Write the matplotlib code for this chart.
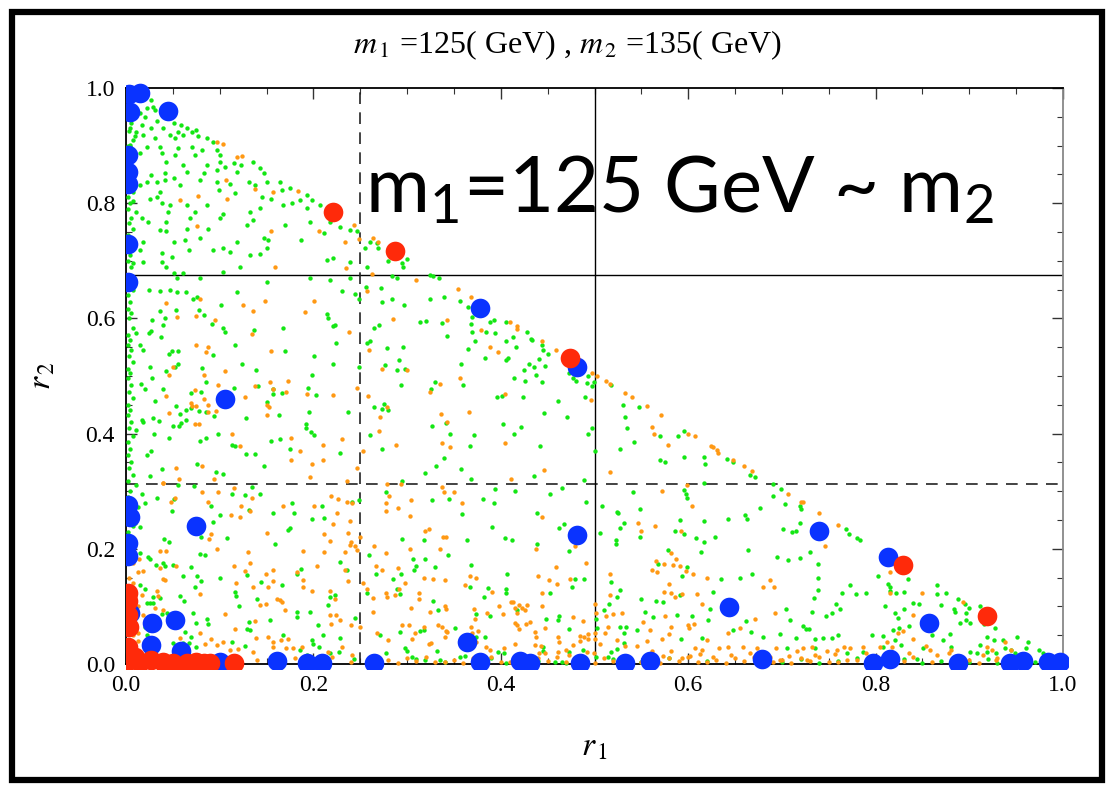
import matplotlib
matplotlib.use("Agg")
import matplotlib.pyplot as plt
from matplotlib.patches import Rectangle
from matplotlib.ticker import MultipleLocator, FormatStrFormatter

plt.rcParams['mathtext.fontset'] = 'custom'
plt.rcParams['mathtext.rm'] = 'Lato'
plt.rcParams['mathtext.it'] = 'Lato:italic'

# scan points (r1, r2), small dots
green_pts = [
    (0.027, 0.979), (0.029, 0.967), (0.022, 0.965), (0.015, 0.956), (0.031, 0.962), (0.020, 0.950),
    (0.033, 0.942), (0.017, 0.936), (0.004, 0.930), (0.011, 0.924), (0.027, 0.930), (0.040, 0.930),
    (0.051, 0.939), (0.059, 0.936), (0.065, 0.930), (0.056, 0.924), (0.070, 0.924), (0.075, 0.927),
    (0.010, 0.916), (0.018, 0.918), (0.031, 0.913), (0.047, 0.918), (0.052, 0.913), (0.061, 0.918),
    (0.077, 0.916), (0.086, 0.914), (0.093, 0.907), (0.004, 0.901), (0.022, 0.898), (0.036, 0.898),
    (0.056, 0.895), (0.070, 0.898), (0.081, 0.892), (0.097, 0.892), (0.015, 0.887), (0.038, 0.887),
    (0.052, 0.884), (0.074, 0.884), (0.100, 0.884), (0.043, 0.872), (0.061, 0.866), (0.086, 0.866),
    (0.100, 0.872), (0.115, 0.869), (0.123, 0.866), (0.136, 0.872), (0.143, 0.861), (0.147, 0.852),
    (0.027, 0.849), (0.042, 0.852), (0.065, 0.855), (0.083, 0.852), (0.097, 0.858), (0.106, 0.863),
    (0.118, 0.855), (0.022, 0.837), (0.033, 0.837), (0.042, 0.840), (0.051, 0.843), (0.079, 0.840),
    (0.097, 0.837), (0.111, 0.834), (0.131, 0.837), (0.138, 0.832), (0.150, 0.837), (0.164, 0.837),
    (0.175, 0.826), (0.015, 0.832), (0.036, 0.820), (0.033, 0.811), (0.026, 0.808), (0.058, 0.832),
    (0.099, 0.823), (0.116, 0.817), (0.145, 0.811), (0.155, 0.808), (0.166, 0.823), (0.186, 0.806),
    (0.193, 0.814), (0.198, 0.806), (0.008, 0.803), (0.038, 0.800), (0.047, 0.797), (0.065, 0.797),
    (0.086, 0.797), (0.011, 0.785), (0.045, 0.785), (0.074, 0.785), (0.104, 0.782), (0.132, 0.785),
    (0.143, 0.791), (0.168, 0.797), (0.177, 0.800), (0.193, 0.791), (0.207, 0.797), (0.017, 0.774),
    (0.024, 0.768), (0.043, 0.768), (0.068, 0.774), (0.100, 0.774), (0.136, 0.771), (0.196, 0.768),
    (0.218, 0.768), (0.228, 0.759), (0.239, 0.753), (0.246, 0.751), (0.036, 0.753), (0.043, 0.751),
    (0.065, 0.756), (0.088, 0.756), (0.129, 0.762), (0.170, 0.762), (0.211, 0.748), (0.018, 0.733),
    (0.051, 0.733), (0.063, 0.736), (0.079, 0.739), (0.118, 0.733), (0.147, 0.739), (0.152, 0.736),
    (0.187, 0.736), (0.150, 0.722), (0.104, 0.722), (0.093, 0.719), (0.067, 0.719), (0.038, 0.713),
    (0.015, 0.719), (0.111, 0.716), (0.132, 0.710), (0.143, 0.711), (0.008, 0.696), (0.018, 0.698),
    (0.038, 0.698), (0.049, 0.707), (0.043, 0.690), (0.122, 0.690), (0.214, 0.701), (0.221, 0.704),
    (0.239, 0.698), (0.257, 0.690), (0.255, 0.722), (0.051, 0.678), (0.061, 0.678), (0.104, 0.681),
    (0.196, 0.670), (0.218, 0.667), (0.239, 0.670), (0.150, 0.664), (0.079, 0.670), (0.054, 0.670),
    (0.260, 0.733), (0.268, 0.731), (0.269, 0.722),
    (0.025, 0.649), (0.036, 0.648), (0.047, 0.649), (0.054, 0.645), (0.064, 0.645), (0.071, 0.634),
    (0.076, 0.638), (0.101, 0.623), (0.118, 0.645), (0.036, 0.612), (0.042, 0.600), (0.028, 0.598),
    (0.040, 0.589), (0.053, 0.615), (0.078, 0.615), (0.083, 0.606), (0.092, 0.591), (0.104, 0.583),
    (0.106, 0.577), (0.137, 0.580), (0.168, 0.584), (0.025, 0.574), (0.027, 0.578), (0.037, 0.567),
    (0.011, 0.574), (0.015, 0.554), (0.018, 0.546), (0.046, 0.539), (0.049, 0.544), (0.056, 0.543),
    (0.093, 0.536), (0.116, 0.553), (0.124, 0.521), (0.139, 0.510), (0.170, 0.543), (0.201, 0.534),
    (0.221, 0.520), (0.216, 0.600), (0.215, 0.608), (0.221, 0.586), (0.223, 0.589), (0.224, 0.558),
    (0.231, 0.648), (0.244, 0.642), (0.249, 0.634), (0.257, 0.558), (0.249, 0.516), (0.026, 0.516),
    (0.028, 0.497), (0.043, 0.508), (0.052, 0.516), (0.056, 0.521), (0.081, 0.514), (0.085, 0.490),
    (0.016, 0.486), (0.020, 0.477), (0.039, 0.477), (0.069, 0.470), (0.080, 0.473), (0.031, 0.457),
    (0.053, 0.448), (0.058, 0.434), (0.069, 0.445), (0.064, 0.441), (0.078, 0.440), (0.085, 0.438),
    (0.094, 0.431), (0.115, 0.479), (0.141, 0.483), (0.157, 0.477), (0.167, 0.471), (0.157, 0.468),
    (0.150, 0.454), (0.163, 0.432), (0.128, 0.427), (0.195, 0.437), (0.199, 0.501), (0.194, 0.479),
    (0.203, 0.467), (0.029, 0.427), (0.035, 0.422), (0.046, 0.393), (0.059, 0.419), (0.057, 0.413),
    (0.050, 0.413), (0.030, 0.400), (0.064, 0.424), (0.017, 0.424), (0.018, 0.421), (0.011, 0.407),
    (0.098, 0.400), (0.079, 0.388), (0.085, 0.392), (0.113, 0.380), (0.116, 0.379), (0.128, 0.364),
    (0.138, 0.364), (0.155, 0.388), (0.164, 0.390), (0.175, 0.374), (0.192, 0.416), (0.192, 0.410),
    (0.197, 0.403), (0.201, 0.398), (0.228, 0.366), (0.237, 0.438), (0.022, 0.362), (0.027, 0.370),
    (0.038, 0.339), (0.026, 0.327), (0.076, 0.347), (0.096, 0.334), (0.104, 0.330), (0.147, 0.343),
    (0.256, 0.655),
    (0.011, 0.311), (0.056, 0.311), (0.073, 0.309), (0.134, 0.307), (0.017, 0.295), (0.033, 0.289),
    (0.051, 0.287), (0.049, 0.266), (0.020, 0.279), (0.013, 0.273), (0.091, 0.275), (0.100, 0.258),
    (0.113, 0.296), (0.127, 0.293), (0.131, 0.267), (0.143, 0.296), (0.093, 0.246), (0.080, 0.221),
    (0.108, 0.219), (0.041, 0.217), (0.046, 0.211), (0.015, 0.238), (0.010, 0.244), (0.173, 0.233),
    (0.175, 0.236), (0.159, 0.209), (0.157, 0.263), (0.177, 0.279), (0.179, 0.262), (0.209, 0.275),
    (0.198, 0.251), (0.211, 0.253), (0.241, 0.281), (0.249, 0.285), (0.015, 0.192), (0.024, 0.186),
    (0.026, 0.182), (0.032, 0.172), (0.039, 0.175), (0.042, 0.171), (0.050, 0.172), (0.069, 0.168),
    (0.079, 0.191), (0.084, 0.190), (0.100, 0.150), (0.061, 0.153), (0.076, 0.153), (0.080, 0.144),
    (0.074, 0.133), (0.116, 0.125), (0.117, 0.118), (0.121, 0.100), (0.140, 0.113), (0.129, 0.155),
    (0.144, 0.143), (0.166, 0.137), (0.187, 0.165), (0.182, 0.157), (0.228, 0.177), (0.236, 0.163),
    (0.216, 0.102), (0.218, 0.116), (0.223, 0.120), (0.244, 0.080), (0.259, 0.189), (0.257, 0.124),
    (0.015, 0.137), (0.020, 0.131), (0.029, 0.117), (0.036, 0.114), (0.058, 0.118), (0.062, 0.110),
    (0.022, 0.106), (0.026, 0.106), (0.029, 0.106), (0.038, 0.086), (0.044, 0.088), (0.071, 0.088),
    (0.075, 0.071), (0.086, 0.078), (0.088, 0.070), (0.131, 0.073), (0.129, 0.061), (0.132, 0.059),
    (0.154, 0.076), (0.168, 0.050), (0.183, 0.091), (0.182, 0.081), (0.196, 0.091), (0.205, 0.067),
    (0.210, 0.050), (0.228, 0.046), (0.020, 0.065), (0.025, 0.059), (0.022, 0.050), (0.063, 0.055),
    (0.069, 0.047), (0.050, 0.037), (0.061, 0.037), (0.067, 0.036), (0.075, 0.030), (0.113, 0.039),
    (0.127, 0.032), (0.198, 0.041), (0.200, 0.034), (0.206, 0.030), (0.186, 0.024), (0.193, 0.016),
    (0.209, 0.013), (0.218, 0.019), (0.227, 0.021), (0.243, 0.008),
    (0.280, 0.700), (0.295, 0.697), (0.300, 0.703), (0.296, 0.690), (0.284, 0.674), (0.289, 0.670),
    (0.324, 0.675), (0.328, 0.674), (0.334, 0.670), (0.272, 0.652), (0.273, 0.628), (0.284, 0.633),
    (0.297, 0.624), (0.324, 0.633), (0.339, 0.638), (0.356, 0.630), (0.365, 0.619), (0.369, 0.603),
    (0.368, 0.591), (0.369, 0.577), (0.372, 0.561), (0.388, 0.594), (0.393, 0.597), (0.384, 0.577),
    (0.394, 0.574), (0.406, 0.593), (0.406, 0.560), (0.413, 0.567), (0.416, 0.550), (0.428, 0.576),
    (0.432, 0.565), (0.433, 0.563), (0.444, 0.554), (0.445, 0.546), (0.450, 0.538), (0.441, 0.529),
    (0.430, 0.520), (0.435, 0.516), (0.447, 0.518), (0.425, 0.510), (0.438, 0.501), (0.444, 0.490),
    (0.426, 0.492), (0.414, 0.497), (0.406, 0.528), (0.408, 0.531), (0.383, 0.532), (0.365, 0.547),
    (0.343, 0.570), (0.337, 0.592), (0.320, 0.596), (0.314, 0.593), (0.270, 0.589), (0.265, 0.584),
    (0.260, 0.560), (0.279, 0.549), (0.296, 0.550), (0.291, 0.528), (0.276, 0.519), (0.289, 0.510),
    (0.298, 0.513), (0.293, 0.485), (0.330, 0.490), (0.325, 0.477), (0.357, 0.521), (0.360, 0.484),
    (0.396, 0.464), (0.401, 0.465), (0.424, 0.464), (0.461, 0.457), (0.473, 0.505), (0.477, 0.496),
    (0.480, 0.492), (0.492, 0.488), (0.497, 0.483), (0.499, 0.489), (0.490, 0.464), (0.493, 0.500),
    (0.518, 0.484), (0.530, 0.450), (0.533, 0.429), (0.535, 0.409), (0.527, 0.373), (0.501, 0.370),
    (0.497, 0.410), (0.493, 0.399), (0.471, 0.429), (0.446, 0.436), (0.422, 0.411), (0.414, 0.399),
    (0.402, 0.416), (0.371, 0.398), (0.367, 0.378), (0.346, 0.400), (0.342, 0.418), (0.327, 0.414),
    (0.339, 0.357), (0.331, 0.343), (0.319, 0.332), (0.358, 0.339), (0.368, 0.322), (0.435, 0.326),
    (0.442, 0.378), (0.265, 0.447), (0.275, 0.451), (0.273, 0.442), (0.280, 0.441), (0.273, 0.374),
    (0.260, 0.398),
    (0.278, 0.298), (0.295, 0.317), (0.327, 0.285), (0.345, 0.286), (0.381, 0.286), (0.393, 0.279),
    (0.394, 0.304), (0.415, 0.300), (0.453, 0.296), (0.465, 0.305), (0.491, 0.282), (0.489, 0.319),
    (0.359, 0.260), (0.391, 0.237), (0.439, 0.263), (0.462, 0.236), (0.467, 0.243), (0.508, 0.274),
    (0.524, 0.264), (0.525, 0.262), (0.531, 0.245), (0.527, 0.236), (0.506, 0.227), (0.523, 0.215),
    (0.523, 0.208), (0.439, 0.208), (0.473, 0.196), (0.404, 0.218), (0.412, 0.215), (0.364, 0.215),
    (0.318, 0.215), (0.295, 0.217), (0.344, 0.190), (0.306, 0.182), (0.319, 0.182), (0.309, 0.170),
    (0.307, 0.163), (0.330, 0.168), (0.368, 0.172), (0.407, 0.157), (0.267, 0.157), (0.294, 0.156),
    (0.285, 0.147), (0.289, 0.130), (0.292, 0.121), (0.367, 0.133), (0.386, 0.132), (0.382, 0.116),
    (0.406, 0.130), (0.406, 0.124), (0.453, 0.124), (0.479, 0.147), (0.489, 0.148), (0.476, 0.134),
    (0.518, 0.142), (0.527, 0.128), (0.524, 0.116), (0.515, 0.104), (0.328, 0.109), (0.333, 0.094),
    (0.374, 0.087), (0.389, 0.083), (0.417, 0.094), (0.448, 0.078), (0.461, 0.076), (0.462, 0.084),
    (0.503, 0.063), (0.502, 0.078), (0.510, 0.094), (0.473, 0.061), (0.292, 0.056), (0.271, 0.050),
    (0.314, 0.057), (0.318, 0.059), (0.351, 0.063), (0.374, 0.047), (0.383, 0.047), (0.298, 0.027),
    (0.300, 0.023), (0.332, 0.023), (0.305, 0.012), (0.364, 0.030), (0.362, 0.014), (0.356, 0.012),
    (0.397, 0.020), (0.445, 0.030), (0.445, 0.023), (0.473, 0.020), (0.488, 0.025), (0.502, 0.013),
    (0.514, 0.013), (0.518, 0.020), (0.524, 0.026), (0.531, 0.036), (0.531, 0.053), (0.527, 0.065),
    (0.534, 0.065), (0.278, 0.019), (0.319, 0.007), (0.335, 0.007), (0.458, 0.004), (0.465, 0.004),
    (0.403, 0.019), (0.406, 0.002),
    (0.547, 0.447), (0.542, 0.386), (0.570, 0.395), (0.595, 0.405), (0.589, 0.395), (0.570, 0.354),
    (0.575, 0.350), (0.596, 0.359), (0.617, 0.360), (0.618, 0.347), (0.641, 0.356), (0.648, 0.350),
    (0.666, 0.328), (0.671, 0.324), (0.617, 0.314), (0.596, 0.302), (0.598, 0.295), (0.599, 0.288),
    (0.691, 0.312), (0.699, 0.303), (0.691, 0.292), (0.703, 0.277), (0.719, 0.274), (0.720, 0.269),
    (0.677, 0.270), (0.661, 0.259), (0.663, 0.252), (0.643, 0.252), (0.617, 0.249), (0.591, 0.250),
    (0.586, 0.231), (0.596, 0.226), (0.608, 0.218), (0.617, 0.212), (0.629, 0.220), (0.549, 0.269),
    (0.549, 0.221), (0.541, 0.299), (0.701, 0.235), (0.711, 0.229), (0.715, 0.231), (0.719, 0.244),
    (0.695, 0.185), (0.706, 0.181), (0.719, 0.184), (0.730, 0.194), (0.664, 0.198), (0.614, 0.195),
    (0.578, 0.198), (0.568, 0.173), (0.599, 0.169), (0.593, 0.153), (0.668, 0.156), (0.655, 0.150),
    (0.635, 0.148), (0.626, 0.125), (0.623, 0.095), (0.591, 0.119), (0.573, 0.107), (0.566, 0.109),
    (0.550, 0.113), (0.554, 0.090), (0.545, 0.059), (0.562, 0.081), (0.588, 0.085), (0.604, 0.084),
    (0.592, 0.043), (0.615, 0.046), (0.621, 0.076), (0.648, 0.059), (0.662, 0.075), (0.667, 0.055),
    (0.680, 0.047), (0.698, 0.052), (0.704, 0.095), (0.709, 0.076), (0.722, 0.066), (0.726, 0.060),
    (0.729, 0.060), (0.715, 0.046), (0.735, 0.043), (0.744, 0.046), (0.754, 0.046), (0.760, 0.050),
    (0.739, 0.174), (0.739, 0.149), (0.739, 0.128), (0.734, 0.114), (0.732, 0.090), (0.753, 0.088),
    (0.758, 0.105), (0.747, 0.083), (0.762, 0.095), (0.764, 0.123), (0.773, 0.137), (0.779, 0.121),
    (0.790, 0.123), (0.772, 0.226), (0.768, 0.234), (0.780, 0.218), (0.783, 0.215), (0.803, 0.153),
    (0.813, 0.139), (0.815, 0.133), (0.815, 0.127), (0.830, 0.125), (0.835, 0.147), (0.822, 0.124),
    (0.810, 0.101), (0.821, 0.089), (0.824, 0.079), (0.830, 0.095), (0.840, 0.106), (0.846, 0.104),
    (0.825, 0.063), (0.819, 0.059), (0.808, 0.049), (0.796, 0.050), (0.821, 0.041), (0.827, 0.033),
    (0.836, 0.066), (0.851, 0.069), (0.860, 0.050), (0.872, 0.042), (0.879, 0.052), (0.865, 0.137),
    (0.866, 0.122), (0.875, 0.124), (0.870, 0.102), (0.884, 0.095), (0.885, 0.091), (0.888, 0.113),
    (0.895, 0.105), (0.900, 0.097), (0.897, 0.088), (0.901, 0.072), (0.897, 0.076), (0.890, 0.072),
    (0.911, 0.101), (0.916, 0.069), (0.927, 0.063), (0.919, 0.047), (0.926, 0.042), (0.911, 0.033),
    (0.936, 0.042), (0.938, 0.028), (0.944, 0.025), (0.951, 0.047), (0.963, 0.039), (0.961, 0.027),
    (0.974, 0.025), (0.979, 0.019), (0.949, 0.019), (0.929, 0.019), (0.919, 0.021), (0.908, 0.019),
    (0.901, 0.021), (0.880, 0.030), (0.851, 0.027), (0.844, 0.008), (0.808, 0.030), (0.787, 0.021),
    (0.769, 0.019), (0.735, 0.027), (0.705, 0.027),
]

# green points stacked along the r1 = 0 edge
green_edge_r2 = [
    0.95, 0.94, 0.925, 0.91, 0.90, 0.89, 0.875, 0.86, 0.845, 0.82, 0.81, 0.80, 0.79, 0.775,
    0.765, 0.755, 0.745, 0.71, 0.70, 0.69, 0.675, 0.65, 0.64, 0.629, 0.617, 0.609, 0.600,
    0.583, 0.571, 0.563, 0.554, 0.545, 0.534, 0.525, 0.513, 0.505, 0.496, 0.484, 0.473,
    0.461, 0.450, 0.441, 0.432, 0.421, 0.409, 0.395, 0.386, 0.374, 0.363, 0.351, 0.340,
    0.328, 0.317, 0.30, 0.29, 0.27, 0.26, 0.24, 0.23, 0.22,
]
green_edge_r1 = [0.002, 0.005, 0.003, 0.007, 0.002, 0.004]

# green points along the r2 = 0 edge
green_floor_r1 = [
    0.70, 0.72, 0.74, 0.76, 0.78, 0.80, 0.83, 0.85, 0.87, 0.89, 0.90, 0.92, 0.93, 0.95,
    0.96, 0.97, 0.98, 0.99, 0.62, 0.58, 0.55, 0.52, 0.47, 0.44, 0.39, 0.34, 0.31,
]
green_floor_r2 = [0.004, 0.008, 0.002, 0.006, 0.010]

orange_pts = [
    (0.097, 0.906), (0.103, 0.903), (0.118, 0.881), (0.124, 0.882), (0.107, 0.840), (0.138, 0.825),
    (0.157, 0.820), (0.184, 0.822), (0.077, 0.813), (0.058, 0.806), (0.108, 0.807), (0.076, 0.761),
    (0.155, 0.751), (0.206, 0.752), (0.243, 0.762), (0.234, 0.733), (0.249, 0.738), (0.159, 0.690),
    (0.235, 0.687), (0.264, 0.739), (0.269, 0.733),
    (0.043, 0.626), (0.079, 0.634), (0.125, 0.623), (0.136, 0.612), (0.148, 0.631), (0.201, 0.631),
    (0.191, 0.611), (0.054, 0.603), (0.075, 0.605), (0.095, 0.598), (0.135, 0.573), (0.238, 0.577),
    (0.075, 0.553), (0.087, 0.551), (0.085, 0.541), (0.155, 0.543), (0.257, 0.648), (0.259, 0.545),
    (0.050, 0.516), (0.046, 0.501), (0.083, 0.502), (0.106, 0.508), (0.098, 0.484), (0.074, 0.476),
    (0.043, 0.465), (0.069, 0.453), (0.070, 0.448), (0.075, 0.448), (0.083, 0.460), (0.088, 0.449),
    (0.088, 0.438), (0.096, 0.440), (0.127, 0.464), (0.138, 0.483), (0.154, 0.489), (0.157, 0.477),
    (0.171, 0.472), (0.173, 0.491), (0.193, 0.469), (0.221, 0.467), (0.247, 0.479), (0.258, 0.465),
    (0.151, 0.450), (0.153, 0.446), (0.151, 0.432), (0.046, 0.435), (0.074, 0.417), (0.078, 0.417),
    (0.113, 0.400), (0.122, 0.379), (0.176, 0.392), (0.210, 0.381), (0.231, 0.391), (0.186, 0.370),
    (0.176, 0.354), (0.210, 0.355), (0.199, 0.347), (0.253, 0.370), (0.247, 0.340), (0.196, 0.325),
    (0.053, 0.341), (0.081, 0.343), (0.057, 0.322), (0.094, 0.321), (0.040, 0.315), (0.236, 0.318),
    (0.040, 0.314), (0.115, 0.305), (0.098, 0.299), (0.081, 0.298), (0.088, 0.282), (0.048, 0.281),
    (0.052, 0.288), (0.123, 0.275), (0.135, 0.288), (0.168, 0.275), (0.201, 0.275), (0.219, 0.291),
    (0.226, 0.286), (0.236, 0.282), (0.241, 0.280), (0.122, 0.255), (0.112, 0.258), (0.132, 0.266),
    (0.225, 0.262), (0.221, 0.243), (0.239, 0.248), (0.151, 0.227), (0.211, 0.226), (0.237, 0.228),
    (0.218, 0.213), (0.240, 0.212), (0.244, 0.204), (0.247, 0.198), (0.239, 0.207), (0.089, 0.217),
    (0.091, 0.225), (0.036, 0.196), (0.043, 0.197), (0.097, 0.200), (0.130, 0.194), (0.189, 0.197),
    (0.211, 0.195), (0.234, 0.194), (0.250, 0.221), (0.002, 0.195), (0.014, 0.182), (0.018, 0.161),
    (0.036, 0.167), (0.053, 0.170), (0.132, 0.175), (0.115, 0.171), (0.127, 0.161), (0.149, 0.157),
    (0.157, 0.163), (0.183, 0.159), (0.204, 0.171), (0.234, 0.163), (0.040, 0.147), (0.042, 0.146),
    (0.117, 0.141), (0.157, 0.144), (0.136, 0.134), (0.152, 0.133), (0.189, 0.146), (0.189, 0.134),
    (0.237, 0.144), (0.253, 0.140), (0.257, 0.131), (0.033, 0.126), (0.034, 0.118), (0.017, 0.120),
    (0.079, 0.122), (0.161, 0.113), (0.164, 0.111), (0.149, 0.104), (0.143, 0.102), (0.166, 0.108),
    (0.198, 0.126), (0.218, 0.126), (0.223, 0.113), (0.106, 0.086), (0.138, 0.075), (0.170, 0.094),
    (0.218, 0.085), (0.224, 0.085), (0.228, 0.076), (0.219, 0.069), (0.240, 0.067), (0.250, 0.065),
    (0.013, 0.053), (0.058, 0.045), (0.079, 0.053), (0.091, 0.044), (0.103, 0.039), (0.116, 0.061),
    (0.139, 0.045), (0.152, 0.047), (0.157, 0.039), (0.165, 0.041), (0.173, 0.043), (0.084, 0.034),
    (0.097, 0.033), (0.111, 0.024), (0.120, 0.026), (0.136, 0.020), (0.157, 0.030), (0.171, 0.027),
    (0.178, 0.027), (0.188, 0.029), (0.216, 0.020), (0.231, 0.030), (0.241, 0.016), (0.040, 0.094),
    (0.031, 0.098), (0.018, 0.085),
    (0.263, 0.677), (0.310, 0.667), (0.354, 0.651), (0.368, 0.637), (0.343, 0.598), (0.285, 0.599),
    (0.379, 0.580), (0.410, 0.594), (0.417, 0.587), (0.417, 0.582), (0.444, 0.561), (0.459, 0.545),
    (0.397, 0.542), (0.389, 0.550), (0.273, 0.513), (0.300, 0.510), (0.356, 0.497), (0.335, 0.486),
    (0.324, 0.472), (0.404, 0.469), (0.497, 0.506), (0.503, 0.500), (0.512, 0.491), (0.517, 0.486),
    (0.533, 0.471), (0.496, 0.459), (0.279, 0.446), (0.271, 0.429), (0.270, 0.405), (0.336, 0.434),
    (0.343, 0.421), (0.366, 0.438), (0.337, 0.383), (0.346, 0.377), (0.288, 0.380), (0.405, 0.384),
    (0.446, 0.336), (0.517, 0.333), (0.411, 0.322), (0.540, 0.463),
    (0.279, 0.313), (0.294, 0.313), (0.281, 0.292), (0.278, 0.280), (0.277, 0.266), (0.290, 0.271),
    (0.304, 0.285), (0.337, 0.308), (0.339, 0.299), (0.350, 0.298), (0.359, 0.280), (0.303, 0.257),
    (0.319, 0.231), (0.323, 0.234), (0.338, 0.221), (0.341, 0.221), (0.303, 0.200), (0.335, 0.200),
    (0.265, 0.205), (0.278, 0.192), (0.273, 0.164), (0.290, 0.167), (0.267, 0.171), (0.318, 0.149),
    (0.328, 0.148), (0.340, 0.145), (0.298, 0.140), (0.278, 0.123), (0.279, 0.117), (0.287, 0.120),
    (0.313, 0.124), (0.313, 0.112), (0.291, 0.130), (0.264, 0.114), (0.367, 0.153), (0.374, 0.150),
    (0.362, 0.138), (0.391, 0.125), (0.438, 0.199), (0.444, 0.255), (0.459, 0.168), (0.440, 0.153),
    (0.451, 0.146), (0.474, 0.147), (0.460, 0.139), (0.491, 0.175), (0.479, 0.205), (0.444, 0.123),
    (0.444, 0.101), (0.428, 0.102), (0.398, 0.101), (0.411, 0.107), (0.419, 0.102), (0.423, 0.098),
    (0.426, 0.093), (0.415, 0.098), (0.417, 0.089), (0.413, 0.108), (0.371, 0.095), (0.372, 0.078),
    (0.385, 0.089), (0.402, 0.086), (0.324, 0.091), (0.340, 0.100), (0.341, 0.095), (0.304, 0.097),
    (0.264, 0.090), (0.295, 0.068), (0.302, 0.067), (0.318, 0.065), (0.308, 0.053), (0.305, 0.043),
    (0.342, 0.058), (0.343, 0.056), (0.333, 0.067), (0.337, 0.065), (0.340, 0.047), (0.368, 0.064),
    (0.376, 0.058), (0.415, 0.071), (0.417, 0.067), (0.419, 0.061), (0.427, 0.069), (0.431, 0.073),
    (0.437, 0.055), (0.438, 0.047), (0.447, 0.062), (0.461, 0.047), (0.462, 0.039), (0.477, 0.081),
    (0.484, 0.049), (0.489, 0.047), (0.493, 0.043), (0.488, 0.075), (0.493, 0.052), (0.484, 0.040),
    (0.477, 0.033), (0.501, 0.105), (0.502, 0.089), (0.501, 0.053), (0.501, 0.043), (0.511, 0.053),
    (0.514, 0.064), (0.512, 0.084), (0.520, 0.086), (0.529, 0.089), (0.517, 0.120), (0.517, 0.157),
    (0.268, 0.053), (0.280, 0.041), (0.323, 0.035), (0.325, 0.037), (0.374, 0.039), (0.369, 0.053),
    (0.384, 0.029), (0.388, 0.024), (0.403, 0.028), (0.415, 0.034), (0.437, 0.033), (0.443, 0.031),
    (0.441, 0.019), (0.447, 0.019), (0.470, 0.024), (0.473, 0.016), (0.461, 0.021), (0.492, 0.021),
    (0.499, 0.019), (0.506, 0.035), (0.524, 0.042), (0.533, 0.031),
    (0.556, 0.448), (0.571, 0.432), (0.561, 0.412), (0.564, 0.399), (0.578, 0.381), (0.600, 0.400),
    (0.607, 0.396), (0.624, 0.378), (0.626, 0.376), (0.631, 0.372), (0.632, 0.367), (0.648, 0.355),
    (0.660, 0.344), (0.668, 0.335), (0.599, 0.310), (0.572, 0.301), (0.604, 0.275), (0.565, 0.240),
    (0.550, 0.231), (0.546, 0.244), (0.592, 0.231), (0.706, 0.296), (0.720, 0.282), (0.722, 0.281),
    (0.740, 0.262), (0.760, 0.242), (0.746, 0.204), (0.582, 0.193), (0.587, 0.182), (0.566, 0.178),
    (0.567, 0.159), (0.574, 0.174), (0.584, 0.172), (0.591, 0.170), (0.598, 0.162), (0.605, 0.157),
    (0.561, 0.163), (0.580, 0.139), (0.574, 0.125), (0.582, 0.123), (0.586, 0.116), (0.593, 0.121),
    (0.609, 0.121), (0.620, 0.150), (0.615, 0.105), (0.680, 0.133), (0.692, 0.133), (0.687, 0.146),
    (0.693, 0.089), (0.671, 0.078), (0.655, 0.063), (0.643, 0.053), (0.606, 0.069), (0.600, 0.068),
    (0.601, 0.063), (0.582, 0.064), (0.575, 0.083), (0.579, 0.052), (0.572, 0.043), (0.552, 0.073),
    (0.559, 0.059), (0.556, 0.040), (0.545, 0.032), (0.561, 0.023), (0.582, 0.023), (0.593, 0.010),
    (0.607, 0.027), (0.613, 0.017), (0.615, 0.024), (0.633, 0.027), (0.642, 0.030), (0.620, 0.041),
    (0.659, 0.030), (0.673, 0.027), (0.694, 0.027), (0.716, 0.023), (0.723, 0.027), (0.732, 0.030),
    (0.766, 0.030), (0.748, 0.023), (0.759, 0.024), (0.773, 0.027), (0.787, 0.030), (0.805, 0.030),
    (0.812, 0.039), (0.817, 0.030), (0.824, 0.053), (0.815, 0.159), (0.815, 0.123), (0.829, 0.058),
    (0.840, 0.043), (0.849, 0.124), (0.840, 0.085), (0.854, 0.031), (0.858, 0.024), (0.880, 0.025),
    (0.893, 0.108), (0.919, 0.030), (0.924, 0.024), (0.938, 0.038), (0.945, 0.024), (0.915, 0.016),
    (0.878, 0.019), (0.865, 0.016), (0.836, 0.019), (0.790, 0.019), (0.757, 0.017), (0.735, 0.016),
    (0.708, 0.014), (0.687, 0.013), (0.666, 0.019), (0.646, 0.015), (0.627, 0.013), (0.602, 0.014),
    (0.573, 0.014), (0.698, 0.007), (0.727, 0.007), (0.780, 0.007), (0.822, 0.004), (0.887, 0.007),
    (0.929, 0.007), (0.965, 0.004),
]

# orange points crowding the r2 = 0 edge
orange_floor_r1 = [
    0.12, 0.14, 0.16, 0.18, 0.20, 0.22, 0.24, 0.26, 0.28, 0.29, 0.30, 0.31, 0.32, 0.33,
    0.34, 0.35, 0.36, 0.37, 0.38, 0.39, 0.40, 0.41, 0.42, 0.43, 0.44, 0.45, 0.46, 0.47,
    0.48, 0.49, 0.50, 0.51, 0.52, 0.53, 0.54, 0.55, 0.56, 0.57, 0.58, 0.59, 0.60, 0.61,
    0.62, 0.63, 0.64, 0.65, 0.66, 0.67, 0.68, 0.69, 0.70, 0.71, 0.72, 0.73, 0.74, 0.75,
    0.76, 0.77, 0.79, 0.81, 0.83, 0.84, 0.86, 0.88, 0.90, 0.91, 0.93, 0.95,
]
orange_floor_r2 = [0.003, 0.007, 0.002, 0.010, 0.005, 0.013, 0.004]

# orange points crowding the r1 = 0 edge at small r2
orange_wall_r2 = [0.19, 0.175, 0.16, 0.15, 0.14, 0.10, 0.06, 0.05, 0.04, 0.02, 0.01]
orange_wall_r1 = [0.003, 0.008, 0.013]

# large markers
blue_pts = [
    (0.003, 0.990), (0.015, 0.991), (0.004, 0.959), (0.045, 0.960), (0.002, 0.884),
    (0.002, 0.855), (0.002, 0.834), (0.002, 0.730), (0.002, 0.664), (0.378, 0.618),
    (0.481, 0.516), (0.106, 0.460), (0.075, 0.240), (0.481, 0.224), (0.364, 0.038),
    (0.740, 0.231), (0.813, 0.186), (0.644, 0.099), (0.857, 0.071), (0.002, 0.276),
    (0.004, 0.255), (0.002, 0.210), (0.002, 0.188), (0.004, 0.088), (0.028, 0.071),
    (0.052, 0.076), (0.027, 0.033), (0.059, 0.023), (0.100, 0.004), (0.161, 0.005),
    (0.193, 0.002), (0.209, 0.002), (0.265, 0.002), (0.378, 0.003), (0.420, 0.006),
    (0.431, 0.002), (0.485, 0.002), (0.533, 0.002), (0.559, 0.005), (0.679, 0.008),
    (0.797, 0.002), (0.815, 0.008), (0.888, 0.002), (0.943, 0.002), (0.957, 0.006),
    (0.984, 0.003), (0.997, 0.003),
]
red_pts = [
    (0.221, 0.785), (0.287, 0.717), (0.474, 0.531), (0.829, 0.172), (0.919, 0.083),
    (0.002, 0.123), (0.002, 0.110), (0.002, 0.085), (0.003, 0.065), (0.002, 0.030),
    (0.010, 0.013), (0.002, 0.005), (0.015, 0.003), (0.027, 0.007), (0.040, 0.004),
    (0.050, 0.002), (0.065, 0.002), (0.075, 0.003), (0.083, 0.002), (0.090, 0.002),
    (0.115, 0.002),
]

title_str = r'$m_{\,1}$ =125( GeV) , $m_{\,2}$ =135( GeV)'
banner_str = r'm$_{\mathrm{1}}$=125 GeV ~ m$_{\mathrm{2}}$'

GREEN = '#14e614'
ORANGE = '#ff9914'
BLUE = '#0a33ff'
RED = '#ff2a0a'

fig = plt.figure(figsize=(11.09, 7.89), dpi=100)
fig.patch.set_facecolor('white')
ax = fig.add_axes([126 / 1109, 125 / 789, 937 / 1109, 576 / 789])

gx = [p[0] for p in green_pts]
gy = [p[1] for p in green_pts]
for i, r2 in enumerate(green_edge_r2):
    gx.append(green_edge_r1[i % len(green_edge_r1)])
    gy.append(r2)
for i, r1 in enumerate(green_floor_r1):
    gx.append(r1)
    gy.append(green_floor_r2[i % len(green_floor_r2)])

ox = [p[0] for p in orange_pts]
oy = [p[1] for p in orange_pts]
for i, r1 in enumerate(orange_floor_r1):
    ox.append(r1)
    oy.append(orange_floor_r2[i % len(orange_floor_r2)])
for i, r2 in enumerate(orange_wall_r2):
    ox.append(orange_wall_r1[i % len(orange_wall_r1)])
    oy.append(r2)

# markers may spill a few pixels past the bottom/right/top frame, not the left
pad_x = 5 / 937
pad_y = 5 / 576
clip_box = Rectangle((0, -pad_y), 1 + pad_x, 1 + 2 * pad_y, transform=ax.transAxes,
                     fill=False, visible=False)
ax.add_patch(clip_box)

layers = [
    ax.scatter(gx, gy, s=10, c=GREEN, linewidths=0, zorder=3),
    ax.scatter(ox, oy, s=10, c=ORANGE, linewidths=0, zorder=4),
    ax.scatter([p[0] for p in blue_pts], [p[1] for p in blue_pts], s=200, c=BLUE,
               linewidths=0, zorder=5),
    ax.scatter([p[0] for p in red_pts], [p[1] for p in red_pts], s=200, c=RED,
               linewidths=0, zorder=6),
]
for layer in layers:
    layer.set_clip_path(clip_box)

# region boundaries
ax.axhline(0.675, color='black', lw=1.0, zorder=2)
ax.axhline(0.3125, color='#222222', lw=1.2, ls=(0, (7, 5)), zorder=2)
ax.axvline(0.5, color='black', lw=1.0, zorder=2)
ax.axvline(0.25, color='#222222', lw=1.2, ls=(0, (7, 5)), zorder=2)

ax.set_xlim(0, 1)
ax.set_ylim(0, 1)
for side in ['left', 'bottom', 'top']:
    ax.spines[side].set_color('black')
    ax.spines[side].set_linewidth(1.3)
ax.spines['right'].set_color('#888888')
ax.spines['right'].set_linewidth(1.3)

ax.xaxis.set_major_locator(MultipleLocator(0.2))
ax.yaxis.set_major_locator(MultipleLocator(0.2))
ax.xaxis.set_minor_locator(MultipleLocator(0.05))
ax.yaxis.set_minor_locator(MultipleLocator(0.05))
ax.xaxis.set_major_formatter(FormatStrFormatter('%.1f'))
ax.yaxis.set_major_formatter(FormatStrFormatter('%.1f'))
ax.tick_params(which='both', direction='in', top=True, right=True, color='#333333')
ax.tick_params(which='major', length=8, width=1.0, pad=8)
ax.tick_params(which='minor', length=4, width=0.8)
for lbl in ax.get_xticklabels() + ax.get_yticklabels():
    lbl.set_fontfamily('Liberation Serif')
    lbl.set_fontsize(17)

ax.set_xlabel(r'$r_{\,1}$', fontsize=24, labelpad=24, math_fontfamily='stix')
ax.set_ylabel(r'$r_{\,2}$', fontsize=24, labelpad=20, math_fontfamily='stix')

fig.text(567 / 1109, 1 - 45 / 789, title_str, ha='center', va='center', fontsize=23,
         family='Liberation Serif', math_fontfamily='stix')
fig.text(365 / 1109, 1 - 212 / 789, banner_str, ha='left', va='baseline', fontsize=56,
         family='Lato', math_fontfamily='custom')

# heavy outer border
fig.patches.append(Rectangle((12 / 1109, 9 / 789), 1090 / 1109, 768 / 789,
                             transform=fig.transFigure, fill=False, edgecolor='black',
                             linewidth=4.5, zorder=10))

fig.savefig('out.png', dpi=100)
